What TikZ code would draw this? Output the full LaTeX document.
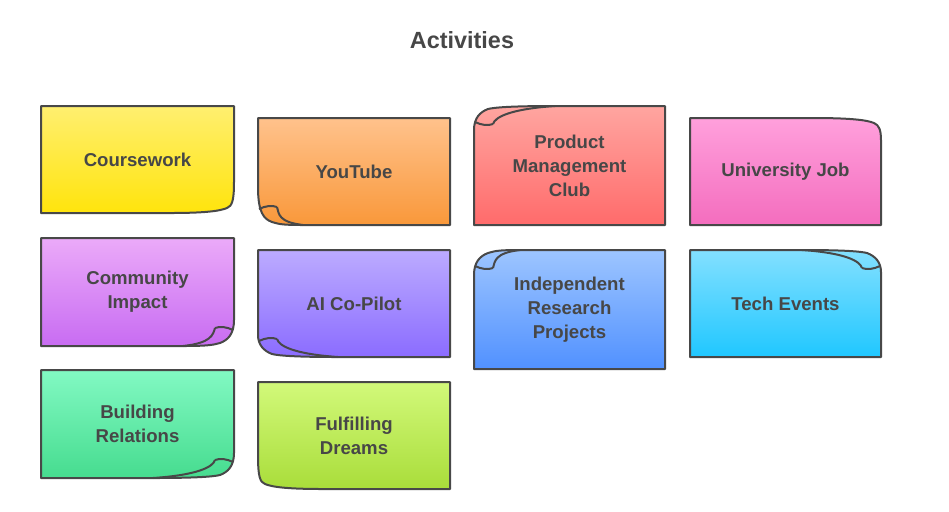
\documentclass[tikz,border=0pt]{standalone}
\usepackage{fontspec}
\setmainfont{Liberation Sans}

\definecolor{linegray}{HTML}{484848}
\definecolor{textgray}{HTML}{474747}
\definecolor{yeltop}{HTML}{FFEF70}\definecolor{yelbot}{HTML}{FFE40C}
\definecolor{orgtop}{HTML}{FFC28C}\definecolor{orgbot}{HTML}{F9983A}
\definecolor{redtop}{HTML}{FFA5A0}\definecolor{redbot}{HTML}{FF6B6B}
\definecolor{pnktop}{HTML}{FFA0DC}\definecolor{pnkbot}{HTML}{F46DBE}
\definecolor{viotop}{HTML}{EBAAF9}\definecolor{viobot}{HTML}{C86CF2}
\definecolor{purtop}{HTML}{BCABFF}\definecolor{purbot}{HTML}{8B6CFF}
\definecolor{blutop}{HTML}{9DC5FF}\definecolor{blubot}{HTML}{5191FF}
\definecolor{cyatop}{HTML}{83E0FF}\definecolor{cyabot}{HTML}{20C7FF}
\definecolor{grntop}{HTML}{82F9C3}\definecolor{grnbot}{HTML}{46DC8F}
\definecolor{limtop}{HTML}{D2F97A}\definecolor{limbot}{HTML}{A9DD3A}

\tikzset{
	cardline/.style={draw=linegray, line width=1pt, line join=round},
	cardtext/.style={text=textgray, font=\bfseries\fontsize{9.3}{12}\selectfont, align=center},
	cornerbr/.style={shift={(\xb,\yb)}},
	cornerbl/.style={shift={(\xa,\yb)}, xscale=-1},
	cornertr/.style={shift={(\xb,\ya)}, yscale=-1},
	cornertl/.style={shift={(\xa,\ya)}, xscale=-1, yscale=-1}
}

% outline of a card, curled corner at the origin
\newcommand{\cardpath}[2]{({\xa-\xb},{\ya-\yb}) -- (0,{\ya-\yb}) -- (0,-#2) .. controls (0,-12) and (\cxa,\cya) .. (\rx,\ry) .. controls (\cxb,\cyb) and ({-0.45*#1},0) .. (-#1,0) -- ({\xa-\xb},0) -- cycle}

% corner, x1, y1, x2, y2, curl width, curl height, colour, fold
\newcommand{\card}[9]{%
	\def\xa{#2}\def\ya{#3}\def\xb{#4}\def\yb{#5}%
	\ifnum#9=1
		\def\cxa{-6}\def\cya{-6}\def\rx{-14}\def\ry{-3}\def\cxb{-20}\def\cyb{-1.5}%
	\else
		\def\cxa{-2}\def\cya{-7}\def\rx{-7}\def\ry{-5}\def\cxb{-14}\def\cyb{-2}%
	\fi
	\begin{scope}
		\clip[#1] \cardpath{#6}{#7};
		\shade[top color=#8top, bottom color=#8bot] (\xa,\ya) rectangle (\xb,\yb);
	\end{scope}
	\draw[cardline,#1] \cardpath{#6}{#7};
	\ifnum#9=1
		\draw[cardline,#1] (-19,-18) .. controls (-14,-20) and (-7,-19) .. (-1,-16);
		\draw[cardline,#1] (-19,-18) .. controls (-21,-11) and ({-0.45*#6},-3) .. (-#6,0);
	\fi
}

\begin{document}
\begin{tikzpicture}[x=0.5pt,y=-0.5pt]

	\useasboundingbox (0,0) rectangle (949,511);

	% title
	\node[text=textgray, font=\bfseries\fontsize{11.7}{14}\selectfont] (title) at (462,40) {Activities};

	% first row
	\card{cornerbr}{41}{106}{234}{213}{64}{31}{yel}{0}
	\card{cornerbl}{258}{118}{450}{225}{45}{38}{org}{1}
	\card{cornertl}{474}{106}{665}{225}{81}{24}{red}{1}
	\card{cornertr}{690}{118}{881}{225}{68}{22}{pnk}{0}

	% second row
	\card{cornerbr}{41}{238}{234}{346}{51}{26}{vio}{1}
	\card{cornerbl}{258}{250}{450}{357}{80}{22}{pur}{1}
	\card{cornertl}{474}{250}{665}{369}{46}{25}{blu}{1}
	\card{cornertr}{690}{250}{881}{357}{79}{22}{cya}{1}

	% third row
	\card{cornerbr}{41}{370}{234}{478}{81}{25}{grn}{1}
	\card{cornerbl}{258}{382}{450}{489}{65}{34}{lim}{0}

	% labels
	\node[cardtext] (coursework) at (137.5,159.5) {Coursework};
	\node[cardtext] (youtube) at (354,171.5) {YouTube};
	\node[cardtext] (pmclub) at (569.5,165.5) {Product\\Management\\Club};
	\node[cardtext] (unijob) at (785.5,171.5) {University Job};
	\node[cardtext] (community) at (137.5,292) {Community\\Impact};
	\node[cardtext] (copilot) at (354,303.5) {AI Co-Pilot};
	\node[cardtext] (research) at (569.5,309.5) {Independent\\Research\\Projects};
	\node[cardtext] (techevents) at (785.5,303.5) {Tech Events};
	\node[cardtext] (relations) at (137.5,424) {Building\\Relations};
	\node[cardtext] (dreams) at (354,435.5) {Fulfilling\\Dreams};

\end{tikzpicture}
\end{document}
